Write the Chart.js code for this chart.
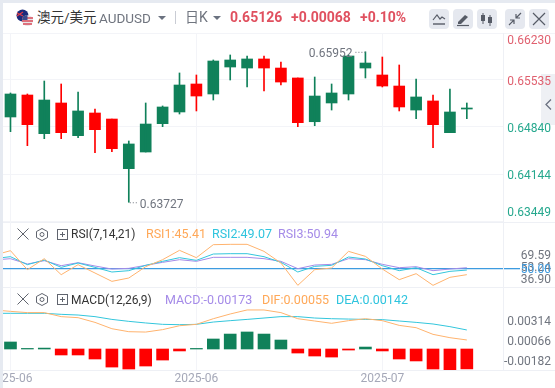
<!DOCTYPE html>
<html>
<head>
<meta charset="utf-8">
<script src="https://cdn.jsdelivr.net/npm/chart.js@4"></script>
<style>
html, body { margin: 0; padding: 0; background: #fff; }
body { width: 555px; height: 388px; overflow: hidden; position: relative; font-family: Roboto, "Noto Sans CJK SC", sans-serif; }
canvas { position: absolute; left: 0; }
.abs { position: absolute; white-space: nowrap; line-height: 16px; }
.sep { position: absolute; left: 3px; width: 552px; height: 1px; background: #eef0f5; }
.btn { position: absolute; top: 9px; width: 20px; height: 20px; border-radius: 4px; background: #e5e8ef; }
.btn svg, .ico { position: absolute; left: 0; top: 0; }
.tri { position: absolute; width: 0; height: 0; border-left: 4px solid transparent; border-right: 4px solid transparent; border-top: 4px solid #6b7280; }
</style>
</head>
<body>
<div class="sep" style="top:33px;background:#f3f4f7"></div>
<div class="sep" style="top:222px"></div>
<div class="sep" style="top:287px"></div>
<div class="sep" style="top:370px"></div>
<!-- side handle -->
<div class="abs" style="left:541px;top:74px;width:14px;height:51px;background:#eef0f4"></div>
<svg class="abs" style="left:544px;top:98px" width="10" height="13"><path d="M7 1.5 L2 6.5 L7 11.5" fill="none" stroke="#6b7280" stroke-width="1.3"/></svg>

<canvas id="priceChart" width="555" height="189" style="top:33px"></canvas>
<canvas id="rsiChart" width="555" height="65" style="top:222px"></canvas>
<canvas id="macdChart" width="555" height="101" style="top:287px"></canvas>

<!-- page frame -->
<div class="abs" style="left:0;top:0;width:3px;height:388px;background:#e6eaf1"></div>
<div class="abs" style="left:0;top:0;width:555px;height:3px;background:#e6eaf1"></div>

<!-- header -->
<svg class="abs" style="left:16px;top:9px" width="20" height="18">
  <circle cx="6.5" cy="6.5" r="6" fill="#1b2a7a"/>
  <path d="M1 4 L7 7 M1 7 L7 3" stroke="#e23b46" stroke-width="1.2"/>
  <circle cx="11.5" cy="11.5" r="5.5" fill="#e9e4e6"/>
  <path d="M6.5 9 H17 M6 12 H17 M7 15 H16" stroke="#d9495a" stroke-width="1.4"/>
  <path d="M6.5 9 A5.5 5.5 0 0 1 11.5 6 V11 H6 Z" fill="#3a4a8c"/>
</svg>
<div class="abs" style="left:37px;top:9px;font-size:13.5px;color:#333">澳元/美元</div>
<div class="abs" style="left:99px;top:10px;font-size:13.5px;color:#70757f">AUDUSD</div>
<div class="tri" style="left:158px;top:16px"></div>
<div class="abs" style="left:175px;top:11px;width:1px;height:13px;background:#c9ccd4"></div>
<div class="abs" style="left:185px;top:9px;font-size:14px;color:#70757f">日K</div>
<div class="tri" style="left:213px;top:16px"></div>
<div class="abs" style="left:230px;top:9px;font-size:14px;font-weight:bold;color:#e0505f">0.65126</div>
<div class="abs" style="left:291px;top:9px;font-size:14px;font-weight:bold;color:#e0505f">+0.00068</div>
<div class="abs" style="left:360px;top:9px;font-size:14px;font-weight:bold;color:#e0505f">+0.10%</div>

<div class="btn" style="left:429px"><svg width="20" height="20"><path d="M4 11 L8 6 L11 10 L13 8 L16 10" fill="none" stroke="#565b66" stroke-width="1.2"/><path d="M4 15 H16" stroke="#565b66" stroke-width="1.4"/></svg></div>
<div class="btn" style="left:453px"><svg width="20" height="20"><path d="M5 13 L12 6 L15 8 L8 15 L5 15 Z" fill="#565b66"/><path d="M4 16.5 H16" stroke="#565b66" stroke-width="1.2"/></svg></div>
<div class="btn" style="left:477px"><svg width="20" height="20"><path d="M6 4 V15 M13 6 V17" stroke="#565b66"/><rect x="4" y="6" width="4" height="6" fill="#565b66"/><rect x="11" y="8" width="4" height="6" fill="#565b66"/></svg></div>
<div class="btn" style="left:505px"><svg width="20" height="20"><path d="M16 4 L11 9 M11 5 V9 H15 M4 16 L9 11 M5 11 H9 V15" fill="none" stroke="#565b66" stroke-width="1.2"/></svg></div>
<div class="btn" style="left:529px"><svg width="20" height="20"><path d="M4 4 L16 16 M16 4 L4 16" stroke="#565b66" stroke-width="1.2"/></svg></div>

<!-- indicator rows -->
<svg class="abs" style="left:16px;top:227px" width="60" height="15"><path d="M1.5 1.5 L12.5 12.5 M12.5 1.5 L1.5 12.5" stroke="#60646e" stroke-width="1"/><path d="M26 1.5 L31.5 4.5 V10.5 L26 13.5 L20.5 10.5 V4.5 Z" fill="none" stroke="#60646e"/><circle cx="26" cy="7.5" r="2" fill="none" stroke="#60646e"/><rect x="41.5" y="2.5" width="10" height="10" fill="none" stroke="#60646e"/><path d="M44 7.5 H49 M46.5 5 V10" stroke="#60646e"/></svg>
<div class="abs" style="left:71px;top:226px;font-size:12px;color:#333">RSI(7,14,21)</div>
<div class="abs" style="left:146px;top:226px;font-size:12.5px;color:#ffa858">RSI1:45.41</div>
<div class="abs" style="left:212px;top:226px;font-size:12.5px;color:#2fc4de">RSI2:49.07</div>
<div class="abs" style="left:278px;top:226px;font-size:12.5px;color:#a58be8">RSI3:50.94</div>

<svg class="abs" style="left:16px;top:292px" width="60" height="15"><path d="M1.5 1.5 L12.5 12.5 M12.5 1.5 L1.5 12.5" stroke="#60646e" stroke-width="1"/><path d="M26 1.5 L31.5 4.5 V10.5 L26 13.5 L20.5 10.5 V4.5 Z" fill="none" stroke="#60646e"/><circle cx="26" cy="7.5" r="2" fill="none" stroke="#60646e"/><rect x="41.5" y="2.5" width="10" height="10" fill="none" stroke="#60646e"/><path d="M44 7.5 H49 M46.5 5 V10" stroke="#60646e"/></svg>
<div class="abs" style="left:71px;top:292px;font-size:12px;color:#333">MACD(12,26,9)</div>
<div class="abs" style="left:165px;top:292px;font-size:12.5px;color:#a58be8">MACD:-0.00173</div>
<div class="abs" style="left:262px;top:292px;font-size:12.5px;color:#ffa858">DIF:0.00055</div>
<div class="abs" style="left:336px;top:292px;font-size:12.5px;color:#2fc4de">DEA:0.00142</div>

<script>
// candles, one entry per trading day
const opens = [0.64988,0.65313,0.64741,0.65195,0.64712,0.65047,0.64958,0.64224,0.64470,0.64889,0.65062,0.65476,0.65328,0.65727,0.65712,0.65846,0.65712,0.65565,0.64918,0.65195,0.65328,0.65712,0.65609,0.65446,0.65091,0.65225,0.64756,0.65106];
const closes = [0.65328,0.64874,0.65239,0.64756,0.65077,0.64800,0.64519,0.64589,0.64884,0.65136,0.65461,0.65298,0.65816,0.65831,0.65846,0.65712,0.65505,0.64904,0.65298,0.65343,0.65890,0.65786,0.65446,0.65136,0.65284,0.64874,0.65062,0.65121];
const highs = [0.65343,0.65328,0.65520,0.65476,0.65358,0.65106,0.64958,0.64633,0.65195,0.65151,0.65639,0.65609,0.65831,0.65905,0.65890,0.65890,0.65801,0.65565,0.65579,0.65476,0.65905,0.65952,0.65875,0.65757,0.65550,0.65313,0.65402,0.65195];
const lows = [0.64771,0.64564,0.64667,0.64667,0.64682,0.64460,0.64475,0.63727,0.64470,0.64845,0.65032,0.65077,0.65239,0.65535,0.65432,0.65372,0.65461,0.64845,0.64859,0.65091,0.65239,0.65565,0.65432,0.65077,0.64963,0.64534,0.64756,0.64963];

// first value of each indicator line is the day just left of the window
const rsi1 = [60.81,64.53,49.38,58.15,45.39,53.37,46.72,40.08,42.74,51.77,57.35,64.80,58.95,69.32,69.59,69.59,64.00,54.70,36.90,49.38,50.71,64.00,60.01,49.91,41.41,46.19,36.90,43.27,45.41];
const rsi2 = [58.15,59.75,53.37,57.09,51.24,54.70,51.24,47.52,48.58,52.84,56.03,58.95,56.82,61.87,62.14,62.14,59.75,55.23,47.52,52.04,52.84,59.48,57.89,52.57,48.58,50.98,45.39,48.05,49.07];
const rsi3 = [57.09,58.15,53.90,56.56,52.57,54.96,52.31,49.91,50.44,52.84,55.23,57.35,56.03,59.22,59.22,59.22,58.15,56.03,50.18,53.10,53.63,58.15,57.35,53.63,50.98,51.77,48.58,49.91,50.94];
const dif = [0.00316,0.00304,0.00293,0.00293,0.00258,0.00249,0.00208,0.00153,0.00127,0.00124,0.00145,0.00179,0.00191,0.00240,0.00281,0.00316,0.00316,0.00293,0.00240,0.00220,0.00200,0.00223,0.00240,0.00223,0.00182,0.00162,0.00104,0.00075,0.00055];
const dea = [0.00287,0.00287,0.00287,0.00287,0.00278,0.00272,0.00258,0.00234,0.00217,0.00203,0.00191,0.00188,0.00191,0.00211,0.00223,0.00234,0.00246,0.00258,0.00258,0.00246,0.00240,0.00237,0.00234,0.00232,0.00220,0.00208,0.00194,0.00171,0.00142];
const macdBars = [0.00061,0.00005,0.00008,-0.00052,-0.00052,-0.00087,-0.00157,-0.00174,-0.00148,-0.00096,-0.00017,0.00005,0.00087,0.0013,0.00148,0.0013,0.00078,-0.00035,-0.00061,-0.0007,-0.00009,0.00017,-0.00017,-0.00087,-0.00104,-0.00174,-0.00183,-0.00173];

const dateTickDays = [0, 11, 22];
const dateTickLabels = ['2025-06', '2025-06', '2025-07'];
const priceTicks = [0.66230, 0.65535, 0.64840, 0.64144, 0.63449];
const rsiLabels = ['69.59', '53.24', '36.90', '50.00'];
const macdLabels = ['0.00314', '0.00066', '-0.00182'];

const GREEN = '#10815a';
const RED = '#ff0000';
const GRID = '#f3f4f8';
const FONT = 'Roboto, sans-serif';

Chart.defaults.animation = false;
Chart.defaults.responsive = false;
Chart.defaults.font.family = FONT;

const days = opens.map((_, i) => i);

function xAxis(showLabels) {
    return {
        type: 'linear',
        offset: false,
        min: -0.62,
        max: 29.14,
        afterBuildTicks: scale => { scale.ticks = dateTickDays.map(value => ({ value })); },
        afterFit: scale => {
            scale.height = showLabels ? 18 : 0;
            // the first label runs off the left edge, don't let it squeeze the plot
            scale.paddingLeft = 0;
            scale.paddingRight = 0;
        },
        grid: { color: GRID, drawTicks: false, offset: false },
        border: { display: false },
        ticks: {
            display: showLabels,
            autoSkip: false,
            maxRotation: 0,
            padding: 2,
            color: '#a5a8b8',
            font: { size: 12 },
            callback: value => dateTickLabels[dateTickDays.indexOf(value)]
        }
    };
}

function yAxis(min, max, ticks) {
    return {
        position: 'right',
        min: min,
        max: max,
        afterBuildTicks: scale => { scale.ticks = ticks.map(value => ({ value })); },
        afterFit: scale => { scale.width = 52; },
        grid: { color: GRID, drawTicks: false },
        border: { display: true, color: '#eef0f5' },
        ticks: { display: false }
    };
}

function barSet(rows, colors, thickness, yAxisID) {
    return {
        type: 'bar',
        data: rows,
        backgroundColor: colors,
        barThickness: thickness,
        grouped: false,
        borderWidth: 0,
        yAxisID: yAxisID
    };
}

function lineSet(values, color, yAxisID) {
    return {
        type: 'line',
        data: values.map((v, i) => ({ x: i - 1, y: v })),
        borderColor: color,
        borderWidth: 1,
        pointRadius: 0,
        tension: 0,
        order: -1,
        yAxisID: yAxisID
    };
}

// right hand labels: the axis packs them inside the panel, so they sit off the tick a little
function axisLabels(items) {
    return {
        id: 'axisLabels',
        afterDraw(chart) {
            const ctx = chart.ctx;
            ctx.save();
            ctx.font = '12px ' + FONT;
            ctx.textAlign = 'right';
            ctx.textBaseline = 'middle';
            items(chart).forEach(item => {
                ctx.fillStyle = item.color;
                ctx.fillText(item.text, 551, item.y);
            });
            ctx.restore();
        }
    };
}

const extremeLabels = {
    id: 'extremeLabels',
    afterDraw(chart) {
        const ctx = chart.ctx;
        const x = chart.scales.x;
        const y = chart.scales.y;
        const hi = highs.indexOf(Math.max(...highs));
        const lo = lows.indexOf(Math.min(...lows));
        const hiX = x.getPixelForValue(hi);
        const hiY = y.getPixelForValue(highs[hi]);
        const loX = x.getPixelForValue(lo);
        const loY = y.getPixelForValue(lows[lo]);
        ctx.save();
        ctx.strokeStyle = '#70757f';
        ctx.setLineDash([1, 2]);
        ctx.beginPath();
        ctx.moveTo(hiX, hiY + 0.5);
        ctx.lineTo(hiX - 10, hiY + 0.5);
        ctx.moveTo(loX + 1, loY + 0.5);
        ctx.lineTo(loX + 10, loY + 0.5);
        ctx.stroke();
        ctx.fillStyle = '#70757f';
        ctx.font = '12px ' + FONT;
        ctx.textBaseline = 'middle';
        ctx.textAlign = 'right';
        ctx.fillText(highs[hi].toFixed(5), hiX - 13, hiY + 2);
        ctx.textAlign = 'left';
        ctx.fillText(lows[lo].toFixed(5), loX + 11, loY + 3);
        ctx.restore();
    }
};

new Chart(document.getElementById('priceChart').getContext('2d'), {
    type: 'bar',
    data: {
        datasets: [
            barSet(days.map(i => ({ x: i, y: [lows[i], highs[i]] })), days.map(i => closes[i] >= opens[i] ? GREEN : RED), 1, 'y'),
            barSet(days.map(i => ({ x: i, y: [opens[i], closes[i]] })), days.map(i => closes[i] >= opens[i] ? GREEN : RED), 11, 'y')
        ]
    },
    options: {
        layout: { autoPadding: false, padding: 0 },
        plugins: { legend: { display: false }, tooltip: { enabled: false } },
        scales: { x: xAxis(false), y: yAxis(0.63435, 0.6623, priceTicks) }
    },
    plugins: [extremeLabels, axisLabels(chart => priceTicks.map((v, i) => {
        const y = chart.scales.y.getPixelForValue(v);
        const last = priceTicks.length - 1;
        return {
            text: v.toFixed(5),
            color: i < 2 ? '#e0606f' : '#26a88e',
            y: i === 0 ? y + 8 : i === last ? y - 8 : y + 2
        };
    }))]
});

new Chart(document.getElementById('rsiChart').getContext('2d'), {
    type: 'line',
    data: {
        datasets: [
            lineSet(rsi1, '#ffb36e', 'y'),
            lineSet(rsi2, '#33c6dc', 'y'),
            lineSet(rsi3, '#a58be8', 'y')
        ]
    },
    options: {
        layout: { autoPadding: false, padding: 0 },
        plugins: { legend: { display: false }, tooltip: { enabled: false } },
        scales: {
            x: xAxis(false),
            y: Object.assign(yAxis(35.57, 87.4, [50]), {
                grid: { color: '#3d9be0', lineWidth: 1.3, drawTicks: true, tickLength: 17, tickColor: '#3d9be0' }
            })
        }
    },
    plugins: [axisLabels(chart => [
        { text: rsiLabels[0], color: '#70757f', y: 34 },
        { text: rsiLabels[1], color: '#70757f', y: 45.5 },
        { text: rsiLabels[2], color: '#70757f', y: 58 },
        { text: rsiLabels[3], color: '#3d9be0', y: chart.scales.y.getPixelForValue(50) + 1 }
    ])]
});

new Chart(document.getElementById('macdChart').getContext('2d'), {
    type: 'bar',
    data: {
        datasets: [
            barSet(macdBars.map((v, i) => ({ x: i, y: v })), macdBars.map(v => v >= 0 ? GREEN : RED), 12, 'yHist'),
            lineSet(dif, '#ffb36e', 'y'),
            lineSet(dea, '#33c6dc', 'y')
        ]
    },
    options: {
        layout: { autoPadding: false, padding: 0 },
        plugins: { legend: { display: false }, tooltip: { enabled: false } },
        scales: {
            x: xAxis(true),
            y: Object.assign(yAxis(-0.00206, 0.005157, []), { grid: { display: false } }),
            yHist: { display: false, min: -0.001826, max: 0.005391 }
        }
    },
    plugins: [axisLabels(() => macdLabels.map((text, i) => ({ text: text, color: '#70757f', y: 35 + i * 20 })))]
});
</script>
</body>
</html>
